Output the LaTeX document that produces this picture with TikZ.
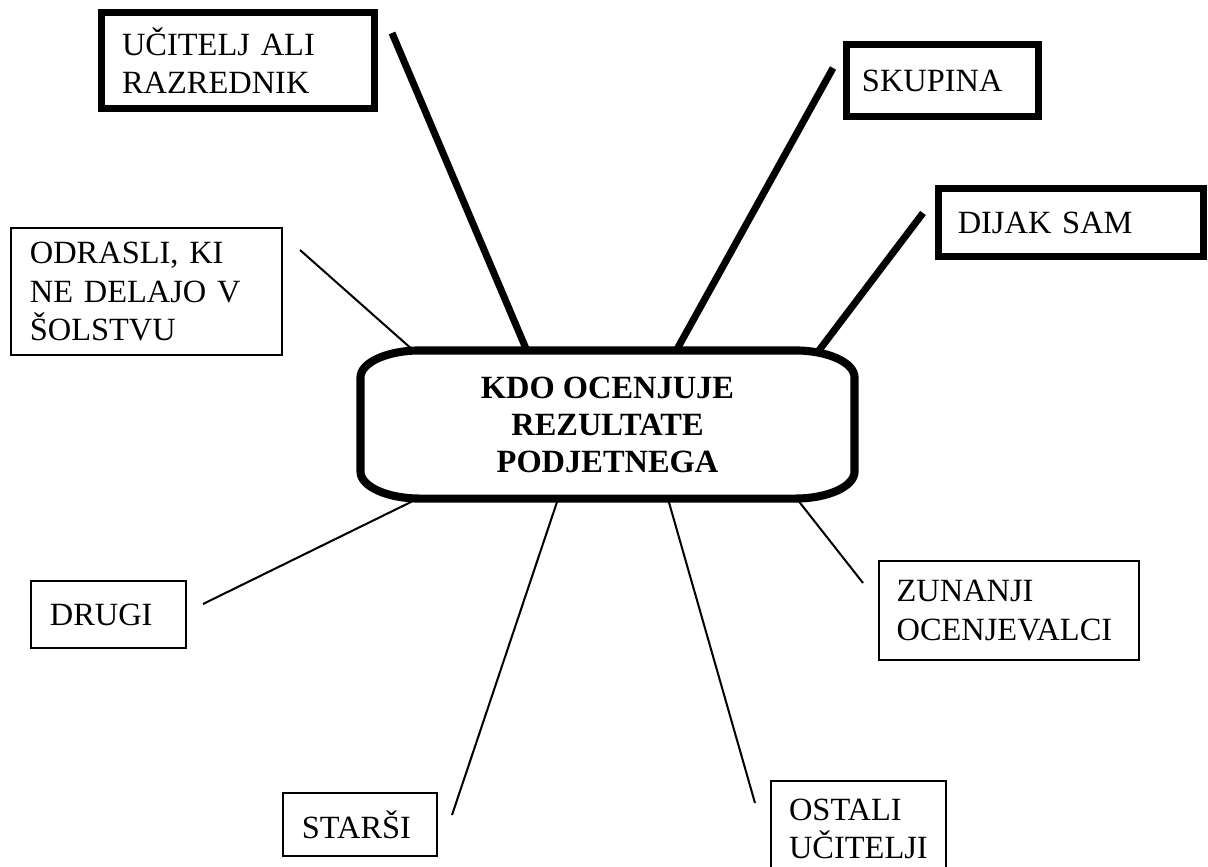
\documentclass[tikz,border=0pt]{standalone}
\usepackage{fontspec}
\setmainfont{Liberation Serif}
\usepackage{tikz}

\begin{document}
\begin{tikzpicture}[
    x=0.37pt, y=-0.37pt,
    box/.style={draw, line width=0.75pt, align=left, inner xsep=7pt, inner ysep=0pt,
    font=\fontsize{12pt}{14.1pt}\selectfont},
    boldbox/.style={box, line width=2.6pt},
    hub/.style={align=center, font=\fontsize{12pt}{13.7pt}\selectfont\bfseries},
    hubline/.style={line width=3pt},
    ln/.style={line width=0.75pt},
    boldln/.style={line width=2.6pt}
]
\useasboundingbox (0,0) rectangle (1208,866);

% end points of the spokes
\coordinate (u1) at (392,33);  \coordinate (k1) at (527,351);
\coordinate (s1) at (833,68);  \coordinate (k2) at (676,351);
\coordinate (d1) at (923,213); \coordinate (k3) at (817,353);
\coordinate (o1) at (300,250); \coordinate (k4) at (414,351);
\coordinate (g1) at (203,604); \coordinate (k5) at (417,499);
\coordinate (p1) at (452,815); \coordinate (k6) at (558,499);
\coordinate (t1) at (755,803); \coordinate (k7) at (668,499);
\coordinate (z1) at (863,583); \coordinate (k8) at (797,499);

\draw[boldln] (u1) -- (k1);
\draw[boldln] (s1) -- (k2);
\draw[boldln] (d1) -- (k3);
\draw[ln] (o1) -- (k4);
\draw[ln] (g1) -- (k5);
\draw[ln] (p1) -- (k6);
\draw[ln] (t1) -- (k7);
\draw[ln] (z1) -- (k8);

\node[hub, minimum width=182.4pt, minimum height=54.4pt] (kdo) at (607.5,424.5)
    {KDO OCENJUJE\\REZULTATE\\PODJETNEGA};
% rounded outline with flat corners
\draw[hubline] ([xshift=22pt]kdo.north west) -- ([xshift=-22pt]kdo.north east)
    arc[start angle=90, end angle=0, x radius=22pt, y radius=10pt]
    -- ([yshift=10pt]kdo.south east)
    arc[start angle=0, end angle=-90, x radius=22pt, y radius=10pt]
    -- ([xshift=22pt]kdo.south west)
    arc[start angle=270, end angle=180, x radius=22pt, y radius=10pt]
    -- ([yshift=-10pt]kdo.north west)
    arc[start angle=180, end angle=90, x radius=22pt, y radius=10pt] -- cycle;

\node[boldbox, minimum width=101pt, minimum height=35.5pt, inner xsep=7.6pt,
    text width=85.8pt] (ucit) at (238,60.5) {UČITELJ ALI\\RAZREDNIK};
\node[boldbox, minimum width=71pt, minimum height=26.6pt, inner xsep=5.7pt,
    text width=59.6pt] (skup) at (942.5,80.5) {SKUPINA};
\node[boldbox, minimum width=98.2pt, minimum height=25.2pt, inner xsep=7.2pt,
    text width=83.8pt] (dijak) at (1071,222.5) {DIJAK SAM};
\node[box, minimum width=100.3pt, minimum height=47pt,
    text width=86.3pt] (odr) at (146.5,291.5) {ODRASLI, KI\\NE DELAJO V\\ŠOLSTVU};
\node[box, minimum width=57.4pt, minimum height=24.8pt,
    text width=43.4pt] (drugi) at (108.5,614.5) {DRUGI};
\node[box, minimum width=57pt, minimum height=23.3pt,
    text width=43pt] (starsi) at (360,824.5) {STARŠI};
\node[box, minimum width=64.8pt, minimum height=35.2pt, inner xsep=6.7pt,
    text width=51.4pt] (ostali) at (858.5,828.5) {OSTALI\\UČITELJI};
\node[box, minimum width=96.2pt, minimum height=36.6pt, inner xsep=6.5pt,
    text width=83.2pt] (zun) at (1009,610.5) {ZUNANJI\\OCENJEVALCI};
\end{tikzpicture}
\end{document}
